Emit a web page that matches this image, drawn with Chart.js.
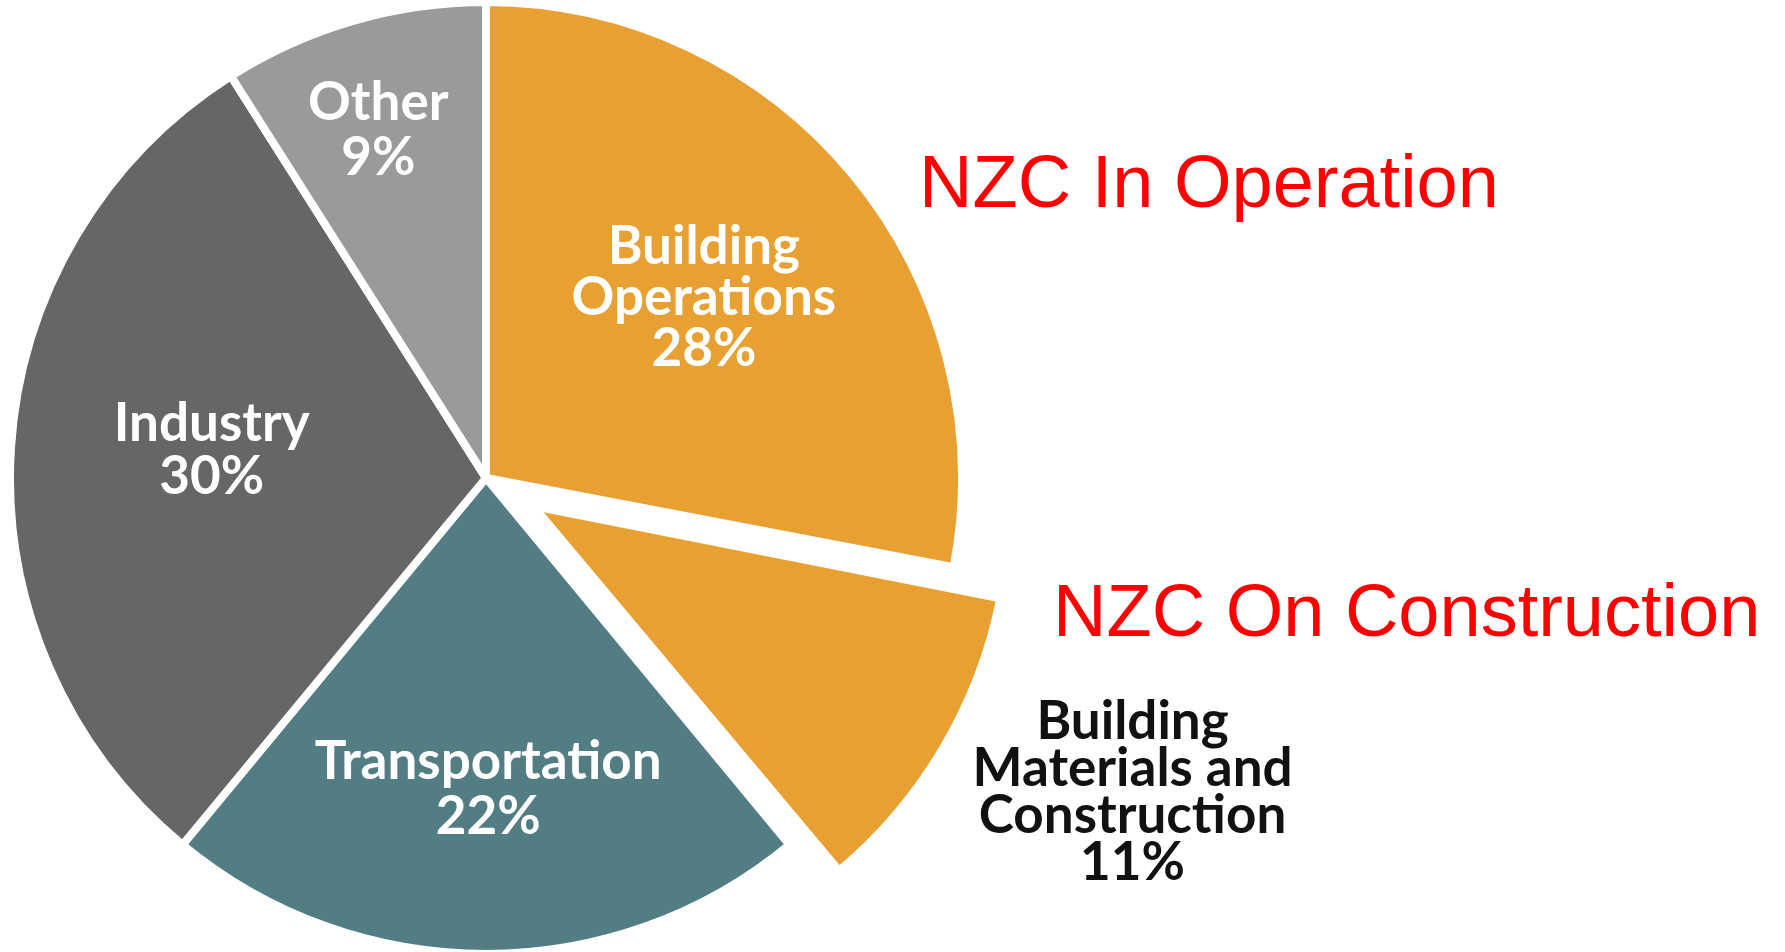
<!DOCTYPE html>
<html>
<head>
<meta charset="utf-8">
<script src="https://cdn.jsdelivr.net/npm/chart.js@4.4.1/dist/chart.umd.min.js"></script>
<style>
  html, body { margin: 0; padding: 0; background: #fff; }
  #wrap { position: relative; width: 1785px; height: 952px; overflow: hidden; }
  #pie { position: absolute; left: 0; top: 0; }
  .note {
    position: absolute;
    font-family: "Liberation Sans", Arial, sans-serif;
    font-size: 74px;
    line-height: 1;
    color: #ff0000;
    white-space: nowrap;
  }
</style>
</head>
<body>
<div id="wrap">
  <canvas id="pie" width="1785" height="952"></canvas>
  <div class="note" style="left:919px; top:145px;">NZC In Operation</div>
  <div class="note" style="left:1053px; top:574px;">NZC On Construction</div>
</div>
<script>
// === Global emissions share by sector ===
var categories = ['Building Operations', 'Building Materials and Construction', 'Transportation', 'Industry', 'Other'];
var shares = [28, 11, 22, 30, 9];
var labelNames = [
  ['Building', 'Operations'],
  ['Building', 'Materials and', 'Construction'],
  ['Transportation'],
  ['Industry'],
  ['Other']
];

// --- styles ---
var sliceColors = ['#e8a033', '#e8a033', '#527e83', '#666666', '#9a9a9a'];
var textColors = ['#ffffff', '#111111', '#ffffff', '#ffffff', '#ffffff'];
var explode = [0, 220, 0, 0, 0];               // chart.js arc offset, px
var labelRadius = [0.594, 1.51, 0.655, 0.579, 0.765];
var labelTurn = [0, -4.7, -0.4, 2.1, -1.0];   // degrees off the slice middle
var lineHeights = [51, 47, 55, 53, 55];

var sliceLabels = {
  id: 'sliceLabels',
  beforeDatasetsDraw: function(chart) {
    // chart.js grows an offset arc a bit; keep it the same size as the rest
    var meta = chart.getDatasetMeta(0);
    var R = meta.controller.outerRadius;
    meta.data.forEach(function(arc, i) {
      var shift = explode[i] / 4;
      var fix = 1 - Math.sin(Math.min(Math.PI, arc.circumference));
      arc.outerRadius = R - shift * fix;
    });
  },
  afterDatasetsDraw: function(chart) {
    var ctx = chart.ctx;
    var meta = chart.getDatasetMeta(0);
    var R = meta.controller.outerRadius;
    ctx.save();
    ctx.textAlign = 'center';
    ctx.textBaseline = 'middle';
    ctx.font = '700 53px Lato, "Open Sans", sans-serif';
    meta.data.forEach(function(arc, i) {
      var mid = (arc.startAngle + arc.endAngle) / 2 + labelTurn[i] * Math.PI / 180;
      var r = R * labelRadius[i];
      var x = arc.x + Math.cos(mid) * r;
      var y = arc.y + Math.sin(mid) * r;
      var lines = labelNames[i].concat(shares[i] + '%');
      var lh = lineHeights[i];
      ctx.fillStyle = textColors[i];
      lines.forEach(function(t, j) {
        ctx.fillText(t, x, y + (j - (lines.length - 1) / 2) * lh);
      });
    });
    ctx.restore();
  }
};

new Chart(document.getElementById('pie').getContext('2d'), {
  type: 'pie',
  data: {
    labels: categories,
    datasets: [{
      data: shares,
      backgroundColor: sliceColors,
      borderColor: '#ffffff',
      borderWidth: 8,
      offset: explode,
      hoverOffset: 0
    }]
  },
  options: {
    responsive: false,
    animation: false,
    events: [],
    radius: 476,
    layout: { padding: { left: 0, right: 813, top: 4, bottom: 0 } },
    plugins: {
      legend: { display: false },
      tooltip: { enabled: false }
    }
  },
  plugins: [sliceLabels]
});
</script>
</body>
</html>
